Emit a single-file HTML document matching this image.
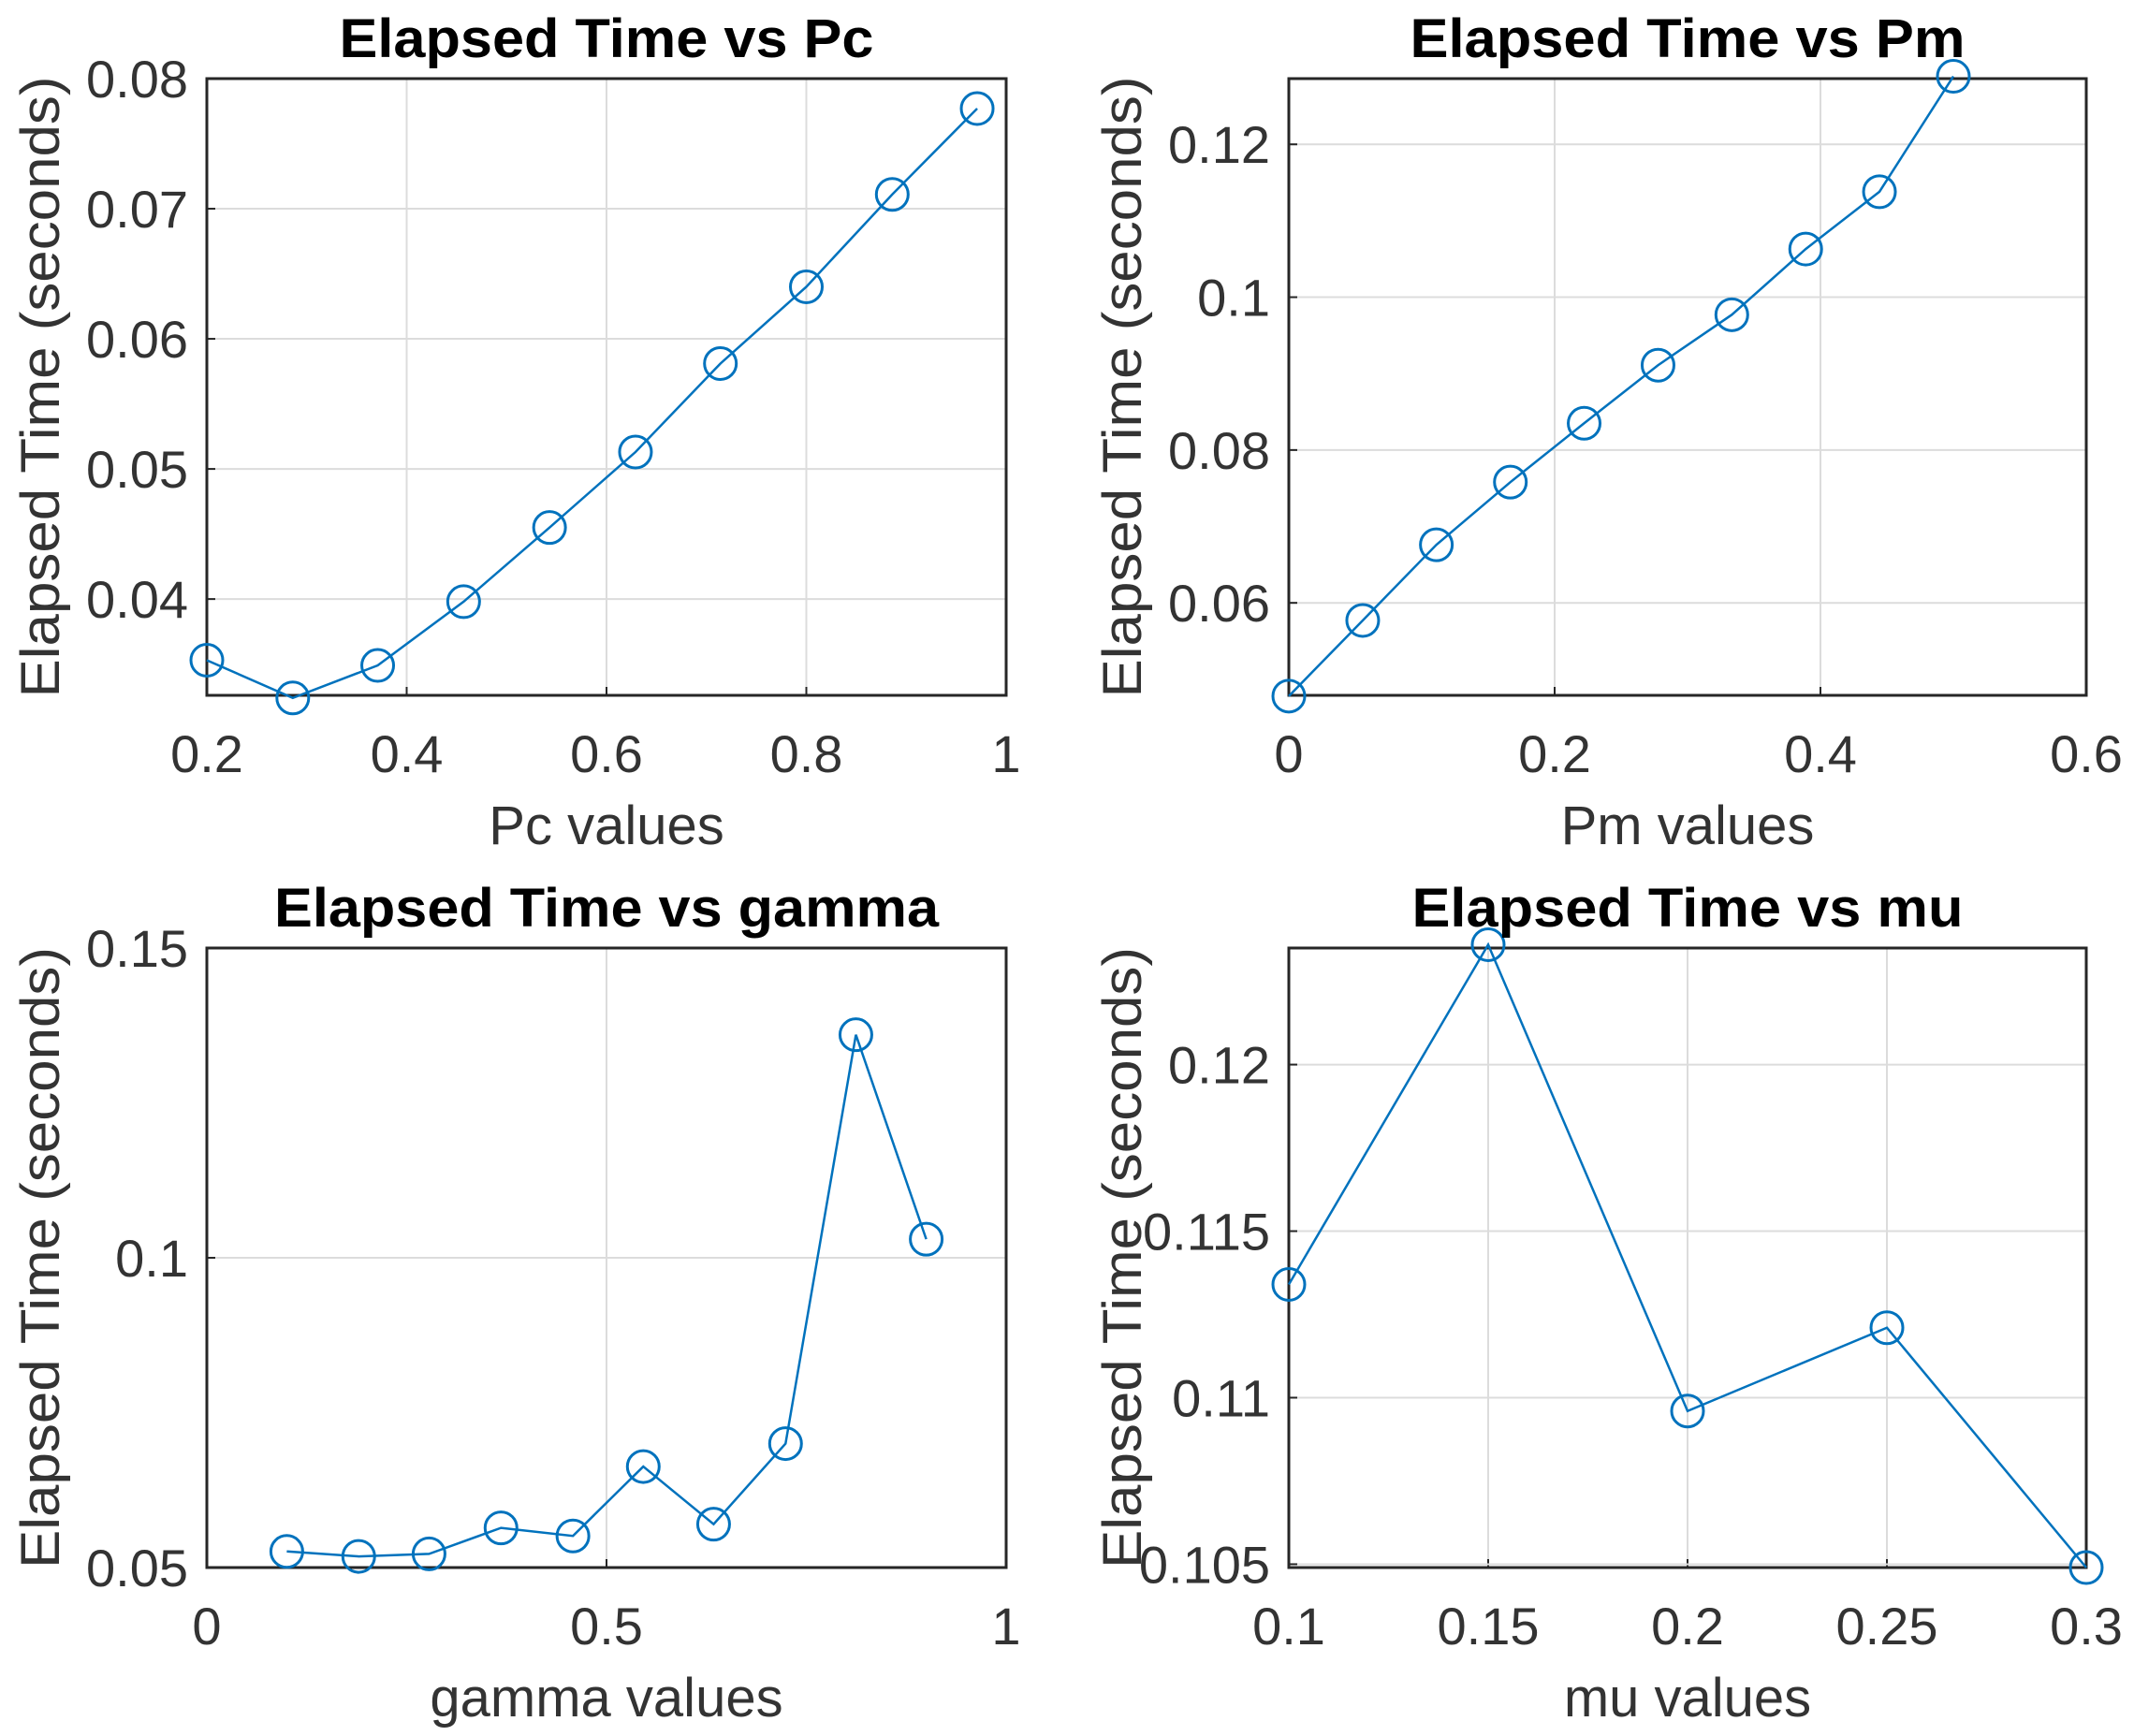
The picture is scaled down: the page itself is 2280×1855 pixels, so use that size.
<!DOCTYPE html>
<html><head><meta charset="utf-8"><style>
html,body{margin:0;padding:0;background:#fff;}
svg{display:block;font-family:"Liberation Sans",Arial,sans-serif;}
</style></head><body>
<svg id="fig" width="2280" height="1855" viewBox="0 0 2280 1855" xmlns="http://www.w3.org/2000/svg"></svg>
<script>
// Panel 1: Pc
const pcX = [0.2,0.286,0.371,0.457,0.543,0.629,0.714,0.8,0.886,0.971];
const pcY = [0.0353,0.0324,0.0349,0.0398,0.0455,0.0513,0.0581,0.064,0.0711,0.0777];
const pcXTicks = [0.2,0.4,0.6,0.8,1];
const pcXTickLabels = ["0.2","0.4","0.6","0.8","1"];
const pcYTicks = [0.04,0.05,0.06,0.07,0.08];
const pcYTickLabels = ["0.04","0.05","0.06","0.07","0.08"];
// Panel 2: Pm
const pmX = [0,0.0556,0.111,0.1667,0.2222,0.2778,0.3333,0.3889,0.4444,0.5];
const pmY = [0.0478,0.0577,0.0676,0.0758,0.0835,0.0911,0.0977,0.1063,0.1138,0.1289];
const pmXTicks = [0,0.2,0.4,0.6];
const pmXTickLabels = ["0","0.2","0.4","0.6"];
const pmYTicks = [0.06,0.08,0.1,0.12];
const pmYTickLabels = ["0.06","0.08","0.1","0.12"];
// Panel 3: gamma
const gX = [0.1,0.19,0.278,0.368,0.458,0.546,0.634,0.724,0.812,0.9];
const gY = [0.0526,0.0518,0.0522,0.0564,0.0551,0.0663,0.057,0.07,0.136,0.103];
const gXTicks = [0,0.5,1];
const gXTickLabels = ["0","0.5","1"];
const gYTicks = [0.05,0.1,0.15];
const gYTickLabels = ["0.05","0.1","0.15"];
// Panel 4: mu
const muX = [0.1,0.15,0.2,0.25,0.3];
const muY = [0.1134,0.1236,0.1096,0.1121,0.1049];
const muXTicks = [0.1,0.15,0.2,0.25,0.3];
const muXTickLabels = ["0.1","0.15","0.2","0.25","0.3"];
const muYTicks = [0.105,0.11,0.115,0.12];
const muYTickLabels = ["0.105","0.11","0.115","0.12"];

const NS="http://www.w3.org/2000/svg";
const svg=document.getElementById('fig');
function mk(tag,attrs,parent){const e=document.createElementNS(NS,tag);for(const k in attrs)e.setAttribute(k,attrs[k]);(parent||svg).appendChild(e);return e;}

const panels=[
 {id:'pc',title:'Elapsed Time vs Pc',tw:571,xl:'Pc values',x:pcX,y:pcY,xt:pcXTicks,xtl:pcXTickLabels,yt:pcYTicks,ytl:pcYTickLabels,L:221,R:1075,T:84,B:743,xmin:0.2,xmax:1,ymin:0.0326,ymax:0.08},
 {id:'pm',title:'Elapsed Time vs Pm',tw:593,xl:'Pm values',x:pmX,y:pmY,xt:pmXTicks,xtl:pmXTickLabels,yt:pmYTicks,ytl:pmYTickLabels,L:1377,R:2229,T:84,B:743,xmin:0,xmax:0.6,ymin:0.0479,ymax:0.1286},
 {id:'gamma',title:'Elapsed Time vs gamma',tw:710,xl:'gamma values',x:gX,y:gY,xt:gXTicks,xtl:gXTickLabels,yt:gYTicks,ytl:gYTickLabels,L:221,R:1075,T:1013,B:1675,xmin:0,xmax:1,ymin:0.05,ymax:0.15},
 {id:'mu',title:'Elapsed Time vs mu',tw:589,xl:'mu values',x:muX,y:muY,xt:muXTicks,xtl:muXTickLabels,yt:muYTicks,ytl:muYTickLabels,L:1377,R:2229,T:1013,B:1675,xmin:0.1,xmax:0.3,ymin:0.1049,ymax:0.1235}
];

panels.forEach(p=>{
 const g=mk('g',{});
 
 
 const sx=v=>p.L+(v-p.xmin)/(p.xmax-p.xmin)*(p.R-p.L);
 const sy=v=>p.B-(v-p.ymin)/(p.ymax-p.ymin)*(p.B-p.T);
 p.xt.forEach((t,i)=>{
  const X=sx(t);
  if(X>p.L+1&&X<p.R-1){const l=mk('line',{x1:X,x2:X,y1:p.T,y2:p.B,stroke:'#dcdcdc','stroke-width':2},g);
   
   }
  const tk=mk('line',{x1:X,x2:X,y1:p.B,y2:p.B-9,stroke:'#262626','stroke-width':2},g);
  
  
  const tx=mk('text',{x:X,y:p.B+82,'text-anchor':'middle','font-size':56,fill:'#333'},g);
  tx.textContent=p.xtl[i];
  
  
 });
 p.yt.forEach((t,i)=>{
  const Y=sy(t);
  if(Y>p.T+1&&Y<p.B-1){const l=mk('line',{x1:p.L,x2:p.R,y1:Y,y2:Y,stroke:'#dcdcdc','stroke-width':2},g);
   
   }
  const tk=mk('line',{x1:p.L,x2:p.L+9,y1:Y,y2:Y,stroke:'#262626','stroke-width':2},g);
  
  
  const tx=mk('text',{x:p.L-20,y:Y+20,'text-anchor':'end','font-size':56,fill:'#333'},g);
  tx.textContent=p.ytl[i];
  
  
 });
 const box=mk('rect',{x:p.L,y:p.T,width:p.R-p.L,height:p.B-p.T,fill:'none',stroke:'#262626','stroke-width':3},g);
 
 
 const pts=p.x.map((v,i)=>sx(v)+','+sy(p.y[i])).join(' ');
 const pl=mk('polyline',{points:pts,fill:'none',stroke:'#0072BD','stroke-width':2.5},g);
 
 
 p.x.forEach((v,i)=>{
  const c=mk('circle',{cx:sx(v),cy:sy(p.y[i]),r:17,fill:'none',stroke:'#0072BD','stroke-width':3},g);
  
  
 });
 const cx=(p.L+p.R)/2, cy=(p.T+p.B)/2;
 const ti=mk('text',{x:cx,y:p.T-23,'text-anchor':'middle','font-size':58,'font-weight':'bold',fill:'#000',textLength:p.tw,lengthAdjust:'spacingAndGlyphs'},g);
 ti.textContent=p.title;
 
 
 const xl=mk('text',{x:cx,y:p.B+159,'text-anchor':'middle','font-size':58,fill:'#333'},g);
 xl.textContent=p.xl;
 
 
 const yl=mk('text',{x:0,y:0,'text-anchor':'middle','font-size':58,fill:'#333',transform:`translate(${p.L-158},${cy}) rotate(-90)`,textLength:664,lengthAdjust:'spacingAndGlyphs'},g);
 yl.textContent='Elapsed Time (seconds)';
 
 
});
</script>
</body></html>
